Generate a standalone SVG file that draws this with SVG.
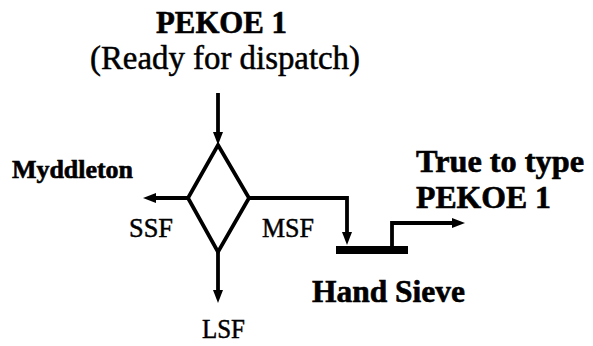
<svg xmlns="http://www.w3.org/2000/svg" width="593" height="346" viewBox="0 0 593 346">
<style>
.t{font-family:"Liberation Serif","Times New Roman",serif;fill:#000;stroke:#000;stroke-width:0.5}
.b{font-weight:bold;stroke-width:0.6}
.ln{fill:none;stroke:#000;stroke-width:3.8;stroke-linejoin:miter}
</style>
<defs>
<marker id="ah" markerUnits="userSpaceOnUse" markerWidth="14" markerHeight="11" refX="1" refY="5" orient="auto">
<path d="M0,0 L13,5 L0,10 z" fill="#000"/>
</marker>
</defs>
<rect width="593" height="346" fill="#fff"/>
<g id="source">
<text class="t b" x="156" y="33" font-size="31" textLength="131" lengthAdjust="spacingAndGlyphs">PEKOE 1</text>
<text class="t" x="90" y="69" font-size="33" textLength="270" lengthAdjust="spacingAndGlyphs">(Ready for dispatch)</text>
</g>
<g id="separator">
<polygon class="ln" points="218,145 249,198 218,252 188,198" fill="#fff"/>
</g>
<g id="myddleton">
<text class="t b" x="12" y="178" font-size="25" textLength="121" lengthAdjust="spacingAndGlyphs">Myddleton</text>
</g>
<g id="hand-sieve">
<rect x="336" y="246" width="72" height="8" fill="#000"/>
<text class="t b" x="312" y="302" font-size="31" textLength="153" lengthAdjust="spacingAndGlyphs">Hand Sieve</text>
</g>
<g id="true-to-type">
<text class="t b" x="416" y="172" font-size="32" textLength="168" lengthAdjust="spacingAndGlyphs">True to type</text>
<text class="t b" x="416" y="208" font-size="31" textLength="135" lengthAdjust="spacingAndGlyphs">PEKOE 1</text>
</g>
<g id="lsf">
<text class="t" x="202" y="338" font-size="28" textLength="43" lengthAdjust="spacingAndGlyphs">LSF</text>
</g>
<g id="connectors">
<line class="ln" x1="218" y1="93" x2="218" y2="133" marker-end="url(#ah)"/>
<line class="ln" x1="188" y1="198" x2="155" y2="198" marker-end="url(#ah)"/>
<line class="ln" x1="218" y1="252" x2="218" y2="291" marker-end="url(#ah)"/>
<polyline class="ln" points="249,198 347,198 347,233" marker-end="url(#ah)"/>
<polyline class="ln" points="392,247 392,223 453,223" marker-end="url(#ah)"/>
<text class="t" x="129" y="237" font-size="28" textLength="44" lengthAdjust="spacingAndGlyphs">SSF</text>
<text class="t" x="262" y="237" font-size="28" textLength="52" lengthAdjust="spacingAndGlyphs">MSF</text>
</g>
</svg>
